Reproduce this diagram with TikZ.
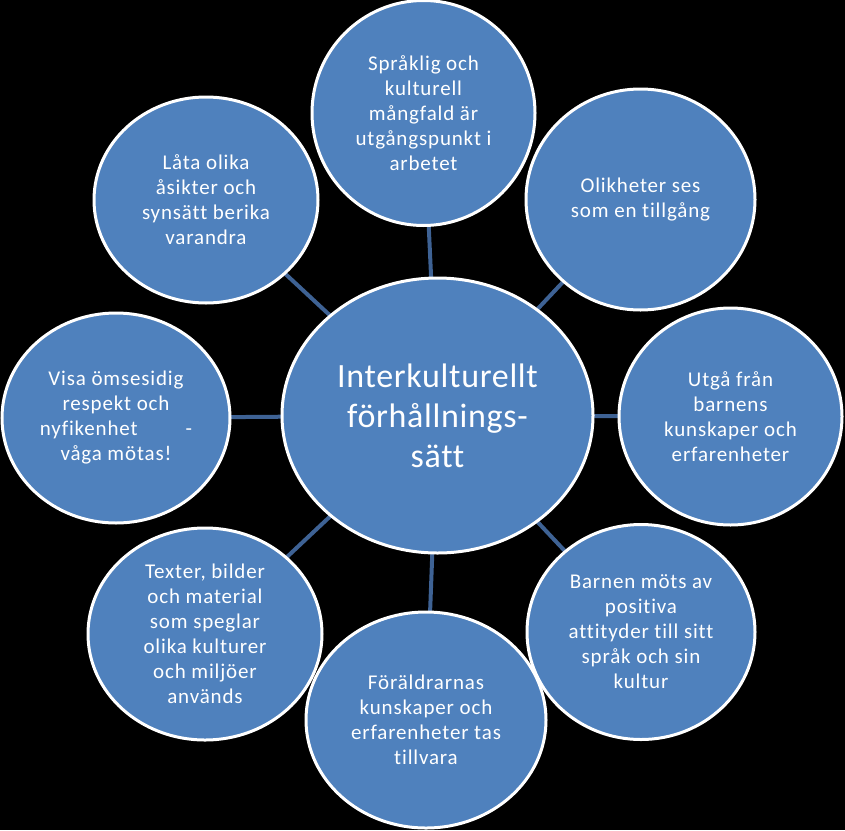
\documentclass[tikz,border=0pt]{standalone}
\usepackage{fontspec}
\setmainfont{Carlito}[Ligatures=NoCommon]
\newfontfamily\smallfnt{Carlito}[Ligatures=NoCommon,LetterSpace=4]
\newfontfamily\bigfnt{Carlito}[Ligatures=NoCommon,LetterSpace=2]
\usetikzlibrary{shapes.geometric,backgrounds}
\definecolor{bubble}{RGB}{79,129,189}
\definecolor{conncol}{RGB}{62,98,148}
\tikzset{
  bub/.style={ellipse, fill=bubble, draw=white, line width=3pt, inner sep=0pt,
    text=white, align=center, font=\smallfnt\fontsize{21}{25}\selectfont},
  hub/.style={bub, font=\bigfnt\fontsize{34}{40}\selectfont},
  conn/.style={draw=conncol, line width=4pt}
}
\begin{document}
\begin{tikzpicture}[x=1pt,y=-1pt]
\useasboundingbox (0,0) rectangle (845,830);
\begin{scope}[on background layer]
\fill[black] (0,0) rectangle (845,830);
\end{scope}
\node[hub, minimum width=311pt, minimum height=275pt] (c) at (437.5,415.5) {Interkulturellt\\förhållnings-\\sätt};
\node[bub, minimum width=223pt, minimum height=225pt] (n1) at (423.5,113) {Språklig och\\kulturell\\mångfald är\\utgångspunkt i\\arbetet};
\node[bub, minimum width=229pt, minimum height=221pt] (n2) at (640.5,199.5) {Olikheter ses\\som en tillgång};
\node[bub, minimum width=223pt, minimum height=217pt] (n3) at (730.5,416.5) {Utgå från\\barnens\\kunskaper och\\erfarenheter};
\node[bub, minimum width=228pt, minimum height=215pt] (n4) at (641,632) {Barnen möts av\\positiva\\attityder till sitt\\språk och sin\\kultur};
\node[bub, minimum width=240pt, minimum height=216pt] (n5) at (426,720) {Föräldrarnas\\kunskaper och\\erfarenheter tas\\tillvara};
\node[bub, minimum width=234pt, minimum height=212pt] (n6) at (205,634) {Texter, bilder\\och material\\som speglar\\olika kulturer\\och miljöer\\används};
\node[bub, minimum width=228pt, minimum height=210pt] (n7) at (116,418) {Visa ömsesidig\\respekt och\\nyfikenhet\hspace{48pt}-\\våga mötas!};
\node[bub, minimum width=224pt, minimum height=206pt] (n8) at (206,200) {Låta olika\\åsikter och\\synsätt berika\\varandra};
\begin{scope}[on background layer]
\foreach \n in {n1,n2,n3,n4,n5,n6,n7,n8} \draw[conn] (c.center) -- (\n.center);
\end{scope}
\end{tikzpicture}
\end{document}
